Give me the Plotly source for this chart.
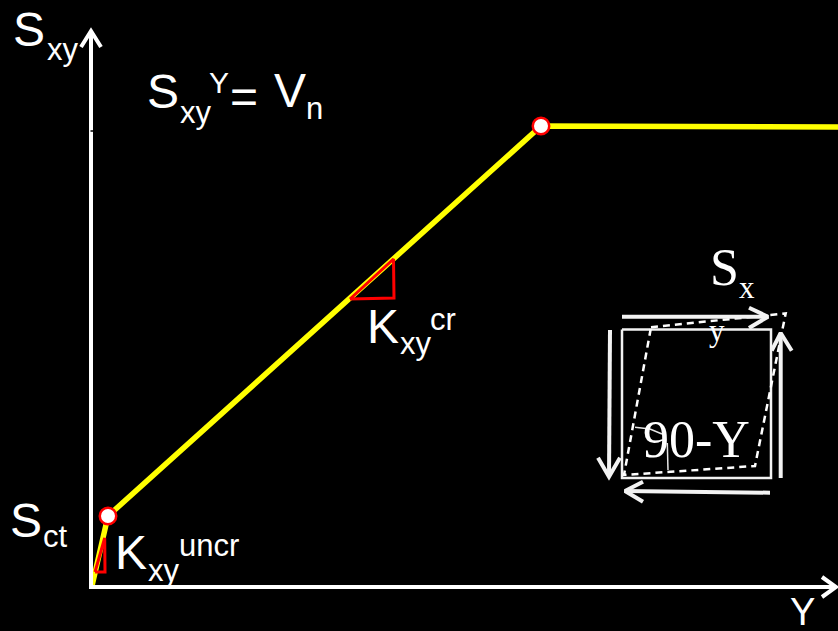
"""Shear stress vs strain backbone with element sketch, on a black slide."""

import plotly.graph_objects as go

# backbone curve (px coordinates of the slide)
curve_x = [92, 108, 541, 838]
curve_y = [586, 516, 126, 127]
knee_x = [108, 541]
knee_y = [516, 126]

# slope triangles
tri_cr_x = [350, 393.5, 394, 350]
tri_cr_y = [299, 259, 298, 299]
tri_uncr_x = [95, 104.7, 105, 95]
tri_uncr_y = [572, 538, 572, 572]

# axes
axis_x = [91, 91, None, 89, 836]
axis_y = [589, 32, None, 587, 587]
axis_head_x = [81, 91, 101, None, 822, 836, 822]
axis_head_y = [47, 31, 47, None, 577, 587, 597]
notch_x = [90.5, 93]
notch_y = [131, 131]

# element sketch
box_x = [622, 771, 771, 622, 622]
box_y = [329.5, 329.5, 478, 478, 329.5]
sheared_x = [651, 785.7, 755, 624, 651]
sheared_y = [327.3, 313.3, 466, 475, 327.3]
shear_arrows_x = [622, 768, None, 749, 768, 749, None,
                  780.7, 780.7, None, 771.7, 780.7, 791.7, None,
                  610, 609, None, 598, 609, 620, None,
                  770, 625, None, 643, 625, 643]
shear_arrows_y = [316.7, 316.7, None, 307.7, 316.7, 328, None,
                  478, 333, None, 350.7, 333, 350.7, None,
                  330, 476.7, None, 457.7, 476.7, 457.7, None,
                  492.7, 491, None, 481.7, 491, 501.7]
angle_x = [635, 650, 662, None, 667.3, 668]
angle_y = [427.3, 429, 434, None, 443, 470]

# labels: text, left edge, vertical centre, size, font
label_text = ["S", "xy", "S", "xy", "Y", "=", "V", "n",
              "K", "xy", "cr", "S", "ct", "K", "xy", "uncr", "Y",
              "S", "x", "y", "90-Y"]
label_x = [13, 47, 147, 180, 209, 230, 274, 306,
           367, 400, 430, 10, 43, 115, 148, 179, 790,
           710, 739, 709, 643]
label_y = [29, 49, 91, 112, 82, 96, 90, 108,
           326, 343, 319, 520, 536, 552, 570, 545, 612,
           267, 287, 330, 439]
label_size = [48, 31, 48, 31, 30, 48, 48, 31,
              48, 31, 31, 48, 31, 48, 31, 31, 38,
              52, 31, 31, 52]
label_font = ["Liberation Sans"] * 17 + ["Liberation Serif"] * 4

fig = go.Figure()


def add_line(xs, ys, color="white", width=4, dash="solid"):
    fig.add_trace(go.Scatter(
        x=xs, y=ys, mode="lines",
        line=dict(color=color, width=width, dash=dash),
        hoverinfo="skip", showlegend=False,
    ))


add_line(curve_x, curve_y, color="#ffff00", width=5.5)
add_line(axis_x, axis_y)
add_line(axis_head_x, axis_head_y)
add_line(notch_x, notch_y, color="black", width=1.5)
add_line(tri_cr_x, tri_cr_y, color="#ff0000", width=3)
add_line(tri_uncr_x, tri_uncr_y, color="#ff0000", width=3)
add_line(box_x, box_y, color="#f2f2f2", width=2.5)
add_line(sheared_x, sheared_y, width=2.5, dash="7px,5px")
add_line(shear_arrows_x, shear_arrows_y, color="#f2f2f2", width=4)
add_line(angle_x, angle_y, color="#e6e6e6", width=1.5)

# white knee markers
fig.add_trace(go.Scatter(
    x=knee_x, y=knee_y, mode="markers",
    marker=dict(color="white", size=16.5, line=dict(color="#ff0000", width=2.5)),
    hoverinfo="skip", showlegend=False,
))

for txt, lx, ly, size, font in zip(label_text, label_x, label_y, label_size, label_font):
    fig.add_annotation(
        x=lx, y=ly, text=txt, showarrow=False,
        xanchor="left", yanchor="middle", borderpad=0, borderwidth=0,
        font=dict(color="white", size=size, family=font),
    )

fig.update_layout(
    xaxis=dict(range=[0, 838], visible=False, fixedrange=True),
    yaxis=dict(range=[631, 0], visible=False, fixedrange=True),
    plot_bgcolor="black",
    paper_bgcolor="black",
    margin=dict(l=0, r=0, t=0, b=0),
    width=838,
    height=631,
)
# drop the browser's default page margin so the slide fills the window
fig.write_html(
    "out.html",
    config=dict(displayModeBar=False),
    post_script="document.body.style.margin='0';document.body.style.overflow='hidden';document.body.style.background='black';",
)
